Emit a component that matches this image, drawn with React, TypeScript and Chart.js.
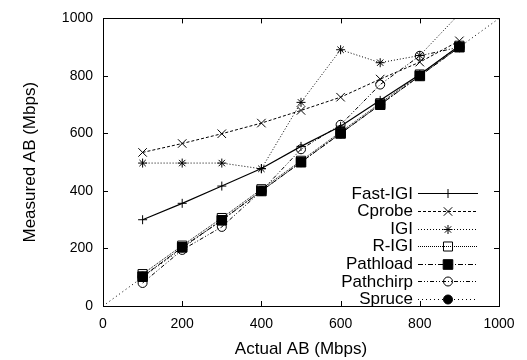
import React, { useEffect, useRef } from 'react';
import { Chart, registerables } from 'chart.js';

Chart.register(...registerables);

// ---- data ----
const actualAB = [100, 200, 300, 400, 500, 600, 700, 800, 900];
const fastIgi = [300, 357, 417, 478, 555, 625, 715, 805, 905];
const cprobe = [534, 565, 599, 636, 680, 726, 789, 848, 922];
const igi = [497, 497, 497, 477, 708, 891, 846, 871, 1016];
const rIgi = [111, 210, 306, 406, 505, 605, 705, 805, 905];
const pathload = [102, 204, 298, 400, 500, 600, 700, 800, 900];
const pathchirp = [80, 195, 275, 400, 545, 630, 770, 870, 900];
const spruce = [102, 204, 298, 400, 500, 600, 700, 800, 900];
const idealX = [0, 1000];
const idealY = [0, 1000];
const axisTicks = [0, 200, 400, 600, 800, 1000];
const axisTickLabels = ['0', '200', '400', '600', '800', '1000'];

type Marker = 'cross' | 'crossRot' | 'star' | 'rect' | 'circle';
interface SeriesStyle {
  label: string;
  values: number[];
  dash: number[];
  marker: Marker;
  radius: number;
  filled: boolean;
  width: number;
}

const series: SeriesStyle[] = [
  { label: 'Fast-IGI', values: fastIgi, dash: [], marker: 'cross', radius: 4.5, filled: false, width: 1.2 },
  { label: 'Cprobe', values: cprobe, dash: [3, 2], marker: 'crossRot', radius: 6, filled: false, width: 1 },
  { label: 'IGI', values: igi, dash: [1, 2], marker: 'star', radius: 4.5, filled: false, width: 1 },
  { label: 'R-IGI', values: rIgi, dash: [1, 1], marker: 'rect', radius: 6.4, filled: false, width: 1 },
  { label: 'Pathload', values: pathload, dash: [5, 2, 1, 2], marker: 'rect', radius: 6.8, filled: true, width: 1 },
  { label: 'Pathchirp', values: pathchirp, dash: [4, 2, 1, 2, 1, 2], marker: 'circle', radius: 4.5, filled: false, width: 1 },
  { label: 'Spruce', values: spruce, dash: [1, 3], marker: 'circle', radius: 4.5, filled: true, width: 1 },
];

const FONT = 'Liberation Sans, Arial, Helvetica, sans-serif';

function drawMarker(ctx: CanvasRenderingContext2D, m: Marker, r: number, filled: boolean, x: number, y: number) {
  ctx.save();
  ctx.setLineDash([]);
  ctx.lineWidth = 1;
  ctx.strokeStyle = '#000';
  ctx.fillStyle = '#000';
  ctx.beginPath();
  if (m === 'cross' || m === 'star') {
    ctx.moveTo(x - r, y); ctx.lineTo(x + r, y);
    ctx.moveTo(x, y - r); ctx.lineTo(x, y + r);
  }
  if (m === 'crossRot' || m === 'star') {
    const o = r * Math.SQRT1_2;
    ctx.moveTo(x - o, y - o); ctx.lineTo(x + o, y + o);
    ctx.moveTo(x - o, y + o); ctx.lineTo(x + o, y - o);
  }
  if (m === 'rect') {
    const s = r * Math.SQRT1_2;
    ctx.rect(x - s, y - s, 2 * s, 2 * s);
    if (filled) ctx.fill();
  }
  if (m === 'circle') {
    ctx.arc(x, y, r, 0, Math.PI * 2);
    if (filled) ctx.fill();
  }
  ctx.stroke();
  ctx.restore();
}

const framePlugin = {
  id: 'gnuplotFrame',
  afterDatasetsDraw(chart: any) {
    const { ctx, chartArea } = chart;
    const { left, right, top, bottom } = chartArea;
    const xs = chart.scales.x;
    const ys = chart.scales.y;
    ctx.save();
    ctx.strokeStyle = '#000';
    ctx.lineWidth = 1;
    ctx.setLineDash([]);
    ctx.strokeRect(Math.round(left) + 0.5, Math.round(top) + 0.5, Math.round(right - left), Math.round(bottom - top));
    const tl = 5;
    ctx.beginPath();
    axisTicks.forEach((v) => {
      const px = Math.round(xs.getPixelForValue(v)) + 0.5;
      ctx.moveTo(px, bottom); ctx.lineTo(px, bottom - tl);
      ctx.moveTo(px, top); ctx.lineTo(px, top + tl);
      const py = Math.round(ys.getPixelForValue(v)) + 0.5;
      ctx.moveTo(left, py); ctx.lineTo(left + tl, py);
      ctx.moveTo(right, py); ctx.lineTo(right - tl, py);
    });
    ctx.stroke();

    // legend
    const textRight = right - 86;
    const x1 = right - 81;
    const x2 = right - 21;
    const y0 = top + 175;
    const step = 17.6;
    ctx.font = `17px ${FONT}`;
    ctx.fillStyle = '#000';
    ctx.textAlign = 'right';
    ctx.textBaseline = 'middle';
    series.forEach((s, i) => {
      const y = y0 + i * step;
      ctx.fillText(s.label, textRight, y + 0.5);
      ctx.save();
      ctx.beginPath();
      ctx.setLineDash(s.dash);
      ctx.lineWidth = s.width;
      ctx.strokeStyle = '#000';
      ctx.moveTo(x1, Math.round(y) + 0.5);
      ctx.lineTo(x2, Math.round(y) + 0.5);
      ctx.stroke();
      ctx.restore();
      drawMarker(ctx, s.marker, s.radius, s.filled, (x1 + x2) / 2, Math.round(y) + 0.5);
    });
    ctx.restore();
  },
};

const tickLabel = (value: any) => {
  const idx = axisTicks.indexOf(Number(value));
  return idx >= 0 ? axisTickLabels[idx] : String(value);
};

export default function App() {
  const canvasRef = useRef<HTMLCanvasElement | null>(null);

  useEffect(() => {
    if (!canvasRef.current) return;
    const datasets: any[] = series.map((s, i) => ({
      label: s.label,
      data: actualAB.map((x, k) => ({ x, y: s.values[k] })),
      borderColor: '#000',
      borderWidth: s.width,
      borderDash: s.dash,
      pointStyle: s.marker,
      pointRadius: s.radius,
      pointBorderWidth: 1,
      pointBorderColor: '#000',
      pointBackgroundColor: s.filled ? '#000' : 'rgba(0,0,0,0)',
      pointHoverRadius: s.radius,
      fill: false,
      tension: 0,
      clip: 0,
      order: series.length - i,
    }));
    datasets.push({
      label: 'ideal',
      data: idealX.map((x, k) => ({ x, y: idealY[k] })),
      borderColor: '#000',
      borderWidth: 1,
      borderDash: [1, 3],
      pointRadius: 0,
      fill: false,
      clip: 0,
      order: 20,
    });

    const tickFont = { family: FONT, size: 14 };
    const titleFont = { family: FONT, size: 17 };

    const chart = new Chart(canvasRef.current, {
      type: 'line',
      data: { datasets },
      options: {
        animation: false,
        responsive: true,
        maintainAspectRatio: false,
        events: [],
        layout: { padding: { left: 0, right: 28, top: 12, bottom: 0 } },
        plugins: { legend: { display: false }, tooltip: { enabled: false } },
        scales: {
          x: {
            type: 'linear',
            min: 0,
            max: 1000,
            afterBuildTicks: (scale: any) => { scale.ticks = axisTicks.map((v) => ({ value: v })); },
            afterFit: (scale: any) => { scale.height = 54; },
            grid: { display: false, drawTicks: false },
            border: { display: false },
            ticks: { color: '#000', font: tickFont, padding: 10, maxRotation: 0, autoSkip: false, callback: tickLabel },
            title: { display: true, text: 'Actual AB (Mbps)', color: '#000', font: titleFont, padding: { top: 0, bottom: 0 } },
          },
          y: {
            type: 'linear',
            min: 0,
            max: 1000,
            afterBuildTicks: (scale: any) => { scale.ticks = axisTicks.map((v) => ({ value: v })); },
            afterFit: (scale: any) => { scale.width = 103; },
            grid: { display: false, drawTicks: false },
            border: { display: false },
            ticks: { color: '#000', font: tickFont, padding: 10, autoSkip: false, callback: tickLabel },
            title: { display: true, text: 'Measured AB (Mbps)', color: '#000', font: titleFont, padding: { top: 19.8, bottom: 0 } },
          },
        },
      },
      plugins: [framePlugin],
    });
    return () => chart.destroy();
  }, []);

  return (
    <div style={{ position: 'absolute', left: 0, top: 0, width: 527, height: 360, background: '#fff' }}>
      <canvas ref={canvasRef} />
    </div>
  );
}
